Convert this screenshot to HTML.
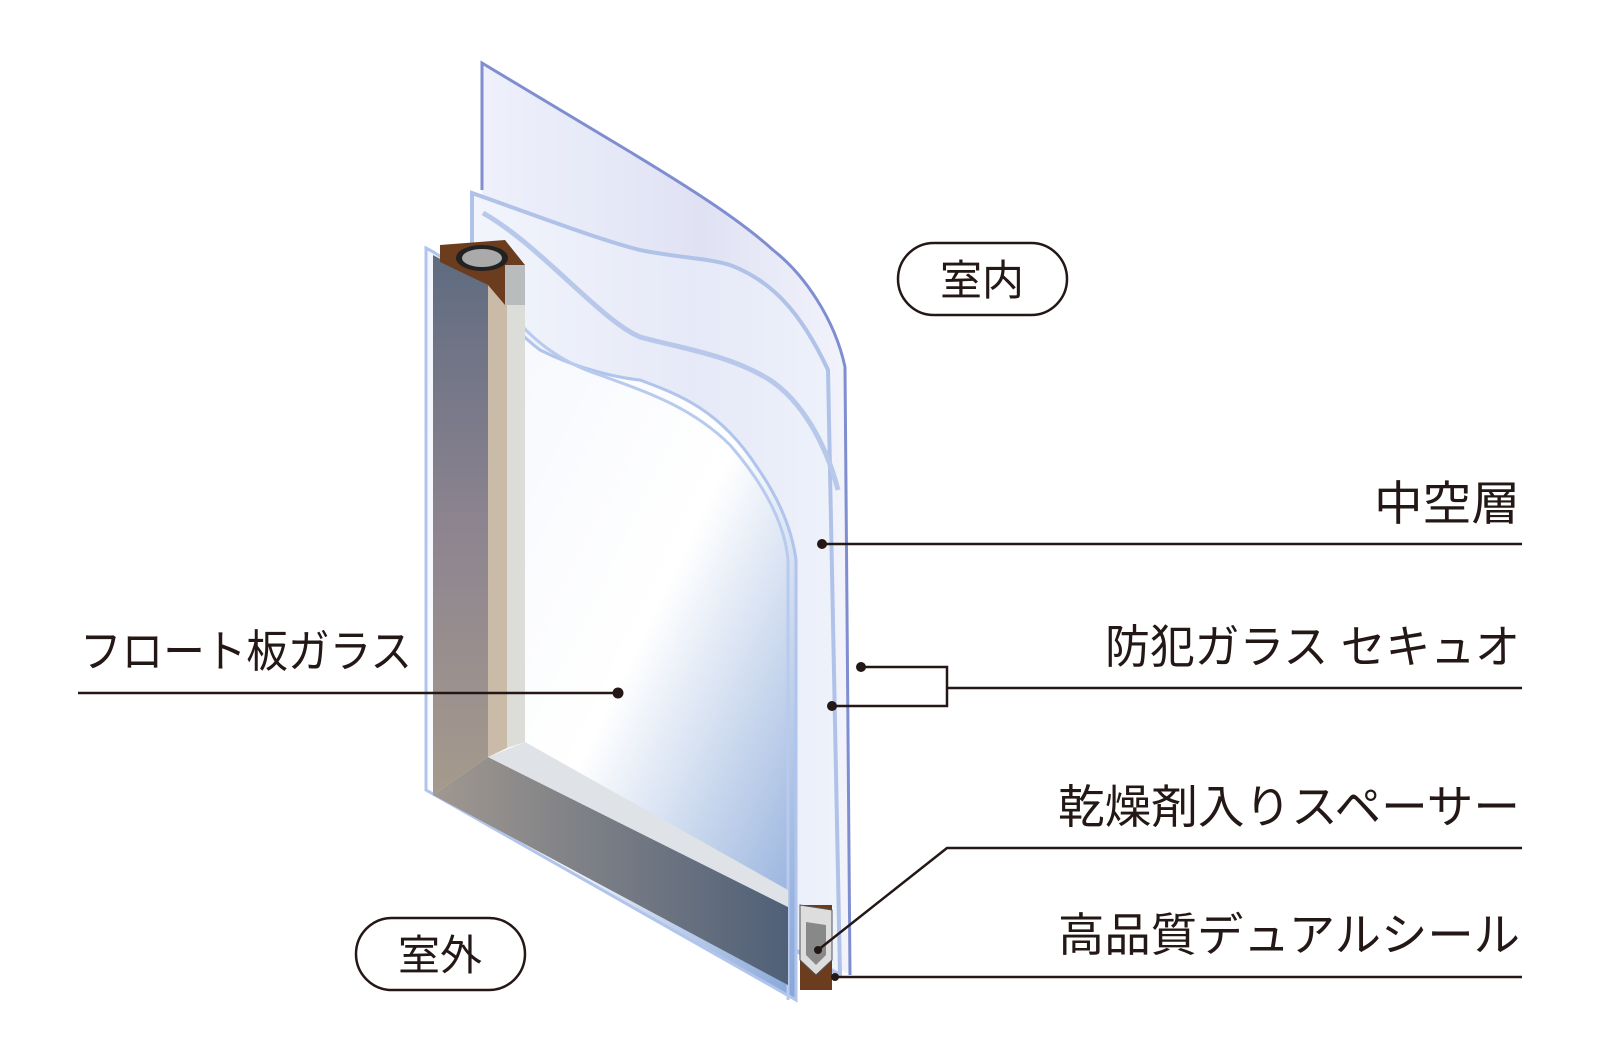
<!DOCTYPE html>
<html><head><meta charset="utf-8"><style>
html,body{margin:0;padding:0;background:#fff;}
svg{display:block;}
text{font-family:"Liberation Sans","Noto Sans CJK JP",sans-serif;fill:#231815;}
</style></head><body>
<svg width="1600" height="1060" viewBox="0 0 1600 1060" xmlns="http://www.w3.org/2000/svg">
<defs>
<linearGradient id="glass" x1="0" y1="0" x2="1" y2="1">
<stop offset="0" stop-color="#f2f5fc"/><stop offset="0.55" stop-color="#ffffff"/><stop offset="1" stop-color="#86a6d8"/>
</linearGradient>
<linearGradient id="back" x1="0" y1="0" x2="1" y2="0">
<stop offset="0" stop-color="#eef1fb"/><stop offset="0.6" stop-color="#e0e2f4"/><stop offset="1" stop-color="#f2f3fb"/>
</linearGradient>
<linearGradient id="mid" x1="0" y1="0" x2="1" y2="0">
<stop offset="0" stop-color="#f2f5fc"/><stop offset="0.6" stop-color="#e6e9f7"/><stop offset="1" stop-color="#eef2fb"/>
</linearGradient>
<linearGradient id="frameL" x1="0" y1="0" x2="0" y2="1">
<stop offset="0" stop-color="#5f6b80"/><stop offset="0.5" stop-color="#8d8490"/><stop offset="1" stop-color="#a59a8c"/>
</linearGradient>
<linearGradient id="frameB" x1="0" y1="0" x2="1" y2="0">
<stop offset="0" stop-color="#a09890"/><stop offset="1" stop-color="#506078"/>
</linearGradient>
</defs>

<!-- back pane -->
<path d="M482,63 L627,150 C690,188 740,220 773,250 C805,275 835,320 845,367 L850,975 L482,770 Z" fill="url(#back)"/>
<path d="M482,190 L482,63 L627,150 C690,188 740,220 773,250 C805,275 835,320 845,367 L850,975" fill="none" stroke="#7f8ed0" stroke-width="3"/>
<!-- middle pane -->
<path d="M472,193 C540,217 600,240 640,250 C680,258 707,258 730,265 C770,280 800,310 828,370 L840,975 L472,770 Z" fill="url(#mid)" stroke="#b0c2e8" stroke-width="4"/>
<path d="M483,213 C540,245 600,320 640,337 C680,348 730,355 770,380 C800,400 825,440 838,490" fill="none" stroke="#b8c8ea" stroke-width="5"/>
<!-- front pane -->
<path d="M426,248 C470,270 500,320 540,350 C580,370 620,378 640,380 C680,395 720,410 757,467 C780,500 792,530 796,560 L796,1000 L426,790 Z" fill="url(#glass)" stroke="#b0c4ec" stroke-width="3"/>
<path d="M500,300 C530,340 560,362 600,375 C640,390 690,405 730,445 C765,485 785,525 788,560 L788,1000" fill="none" stroke="#b8caee" stroke-width="3"/>
<!-- frame left -->
<path d="M433,255 L488,285 L488,757 L433,795 Z" fill="url(#frameL)"/>
<path d="M488,285 L507,295 L507,748 L488,757 Z" fill="#c9bba8"/>
<path d="M507,295 L525,303 L525,742 L507,748 Z" fill="#dcdcd8"/>
<!-- frame bottom -->
<path d="M433,795 L488,757 L788,907 L788,985 Z" fill="url(#frameB)"/>
<path d="M488,757 L525,742 L788,890 L788,907 Z" fill="#dfe2e6"/>
<!-- spacer top -->
<path d="M440,245 L505,240 L525,265 L525,300 L505,305 L488,285 L440,262 Z" fill="#6b3d1e"/>
<ellipse cx="482" cy="258" rx="26" ry="13" fill="#222"/>
<ellipse cx="482" cy="258" rx="20" ry="9" fill="#aaa"/>
<rect x="505" y="265" width="20" height="40" fill="#b8bcbc"/>
<!-- spacer bottom -->
<rect x="800" y="905" width="32" height="85" fill="#6b3d1e"/>
<path d="M800,905 L832,910 L832,960 L816,975 L800,960 Z" fill="#ddd" stroke="#555" stroke-width="1"/>
<path d="M806,922 L826,925 L826,955 L816,965 L806,955 Z" fill="#888"/>

<!-- labels pills -->
<rect x="898" y="243" width="169" height="72" rx="36" fill="#fff" stroke="#231815" stroke-width="2.5"/>
<text x="982" y="295" font-size="42" text-anchor="middle">室内</text>
<rect x="356" y="918" width="169" height="72" rx="36" fill="#fff" stroke="#231815" stroke-width="2.5"/>
<text x="440" y="970" font-size="42" text-anchor="middle">室外</text>

<!-- leaders -->
<g stroke="#231815" stroke-width="2.5" fill="none">
<line x1="822" y1="544" x2="1522" y2="544"/>
<polyline points="861,667 947,667 947,706 832,706"/>
<line x1="947" y1="688" x2="1522" y2="688"/>
<polyline points="818,950 947,848 1522,848"/>
<line x1="835" y1="977" x2="1522" y2="977"/>
<line x1="78" y1="693" x2="619" y2="693"/>
</g>
<g fill="#231815">
<circle cx="822" cy="544" r="5"/><circle cx="861" cy="667" r="5"/><circle cx="832" cy="706" r="5"/>
<circle cx="618" cy="693" r="5.5"/><circle cx="818" cy="950" r="4"/><circle cx="835" cy="977" r="4"/>
</g>

<text x="1520" y="520" font-size="47" text-anchor="end" textLength="146" lengthAdjust="spacingAndGlyphs">中空層</text>
<text x="1520" y="663" font-size="46" text-anchor="end" textLength="415" lengthAdjust="spacingAndGlyphs">防犯ガラス セキュオ</text>
<text x="1520" y="823" font-size="46" text-anchor="end" textLength="462" lengthAdjust="spacingAndGlyphs">乾燥剤入りスペーサー</text>
<text x="1520" y="951" font-size="46" text-anchor="end" textLength="462" lengthAdjust="spacingAndGlyphs">高品質デュアルシール</text>
<text x="80" y="667" font-size="45" textLength="332" lengthAdjust="spacingAndGlyphs">フロート板ガラス</text>
</svg>
</body></html>
